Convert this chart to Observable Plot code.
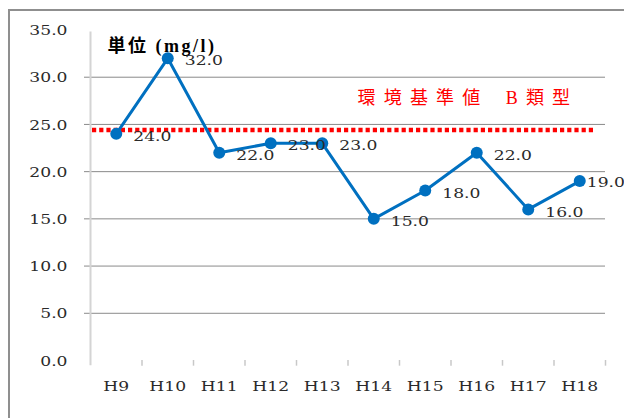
<!DOCTYPE html>
<html><head><meta charset="utf-8">
<script src="https://cdn.jsdelivr.net/npm/d3@7"></script>
<script src="https://cdn.jsdelivr.net/npm/@observablehq/plot@0.6"></script>
<style>
html,body{margin:0;padding:0;background:#fff;}
#wrap{position:relative;width:624px;height:418px;overflow:hidden;}
#border{position:absolute;left:8px;top:9px;width:700px;height:500px;border:2px solid #8f8f8f;box-sizing:border-box;}
#chart{position:absolute;left:0;top:0;}
</style></head><body>
<div id="wrap"><div id="border"></div><div id="chart"></div></div>
<script>
const categories = ["H9","H10","H11","H12","H13","H14","H15","H16","H17","H18"];
const values = [24, 32, 22, 23, 23, 15, 18, 22, 16, 19];
const yTicks = [0, 5, 10, 15, 20, 25, 30, 35];
const gridTicks = [5, 10, 15, 20, 25, 30];
const standardValue = 24.4;
const standardLabel = "環境基準値\u2002B類型";
const unitLabel = "単位 (mg/l)";

const data = categories.map((c, i) => ({cat: c, idx: i + 0.5, value: values[i]}));
const boundaries = categories.map((c, i) => i + 1);
const serif = "DejaVu Serif";
const mixed = "Liberation Serif, Noto Sans CJK JP";
const blue = "#0070C0";
const fmt = d3.format(".1f");
const n = categories.length;

const plot = Plot.plot({
  width: 624, height: 418,
  marginLeft: 90, marginRight: 19, marginTop: 29.5, marginBottom: 58,
  x: {domain: [0, n], axis: null},
  y: {domain: [0, 35], axis: null},
  marks: [
    Plot.ruleY(gridTicks, {stroke: "#8a8a8a", strokeWidth: 1, insetLeft: -6}),
    Plot.ruleX([0], {y1: -0.55, y2: 34.8, stroke: "#d4d4d4", strokeWidth: 2}),
    Plot.ruleX(boundaries, {y1: 0, y2: -0.6, stroke: "#c8c8c8", strokeWidth: 1.5}),
    Plot.text(yTicks, {y: d => d, text: d => fmt(d), frameAnchor: "left", textAnchor: "end", dx: -23, dy: 1, fontFamily: serif, fontSize: 13, fill: "#2a2a2a"}),
    Plot.text(data, {x: "idx", text: "cat", frameAnchor: "bottom", dy: 26, lineAnchor: "middle", fontFamily: serif, fontSize: 13, fill: "#2a2a2a"}),
    Plot.ruleY([standardValue], {stroke: "#ff0000", strokeWidth: 4.5, strokeDasharray: "4.2,3", insetLeft: 2, insetRight: 10}),
    Plot.line(data, {x: "idx", y: "value", stroke: blue, strokeWidth: 3}),
    Plot.dot(data, {x: "idx", y: "value", r: 6, fill: blue}),
    Plot.text(data, {filter: (d, i) => i < n - 1, x: "idx", y: "value", text: d => fmt(d.value), textAnchor: "start", dx: 17, dy: 3, fontFamily: serif, fontSize: 13, fill: "#2a2a2a"}),
    Plot.text(data, {filter: (d, i) => i === n - 1, x: "idx", y: "value", text: d => fmt(d.value), textAnchor: "start", dx: 7, dy: 2, fontFamily: serif, fontSize: 13, fill: "#2a2a2a"}),
    Plot.text([standardValue], {y: d => d, text: () => standardLabel, frameAnchor: "left", textAnchor: "start", dx: 267, dy: -32, lineAnchor: "middle", fill: "#ff0000", fontSize: 18, fontFamily: mixed}),
    Plot.text([unitLabel], {text: d => d, frameAnchor: "top-left", textAnchor: "start", dx: 17, dy: 16.5, lineAnchor: "middle", fill: "#000", fontSize: 18, fontWeight: "bold", fontFamily: mixed})
  ]
});

plot.querySelectorAll(`g[font-family="${serif}"] text`).forEach(t => {
  const tr = t.getAttribute("transform");
  if (tr) t.setAttribute("transform", tr + " scale(1.32,1)");
});
plot.querySelectorAll("text").forEach(t => {
  if (t.textContent === standardLabel) t.style.letterSpacing = "8.2px";
  if (t.textContent === unitLabel) t.style.letterSpacing = "2.5px";
});
plot.style.background = "transparent";
document.getElementById("chart").appendChild(plot);
</script>
</body></html>
